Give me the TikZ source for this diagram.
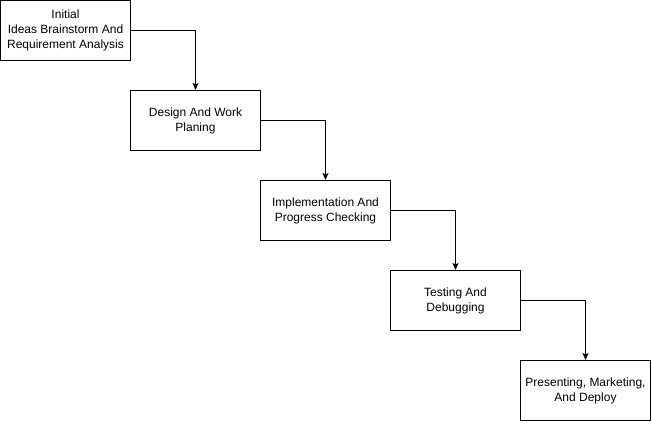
\documentclass[tikz,border=0pt]{standalone}
\usepackage{fontspec}
\setmainfont{Liberation Sans}
\usetikzlibrary{arrows.meta}
\begin{document}
\begin{tikzpicture}[x=1pt,y=-1pt,
  stagebox/.style={draw=black,line width=1pt,minimum width=130pt,minimum height=60pt,
    inner sep=0pt,align=center,font=\fontsize{12}{15}\selectfont},
  flow/.style={draw=black,line width=1pt,-{Stealth[length=7pt,width=6pt,inset=1.5pt]}}]
\useasboundingbox (0,0) rectangle (652,424);
\node[stagebox] (s1) at (65.5,30.5) {Initial\\Ideas Brainstorm And\\Requirement Analysis};
\node[stagebox] (s2) at (195.5,120.5) {Design And Work\\Planing};
\node[stagebox] (s3) at (325.5,210.5) {Implementation And\\Progress Checking};
\node[stagebox] (s4) at (455.5,300.5) {Testing And\\Debugging};
\node[stagebox] (s5) at (585.5,390.5) {Presenting, Marketing,\\And Deploy};
\draw[flow] (s1.east) -| (s2.north);
\draw[flow] (s2.east) -| (s3.north);
\draw[flow] (s3.east) -| (s4.north);
\draw[flow] (s4.east) -| (s5.north);
\end{tikzpicture}
\end{document}
